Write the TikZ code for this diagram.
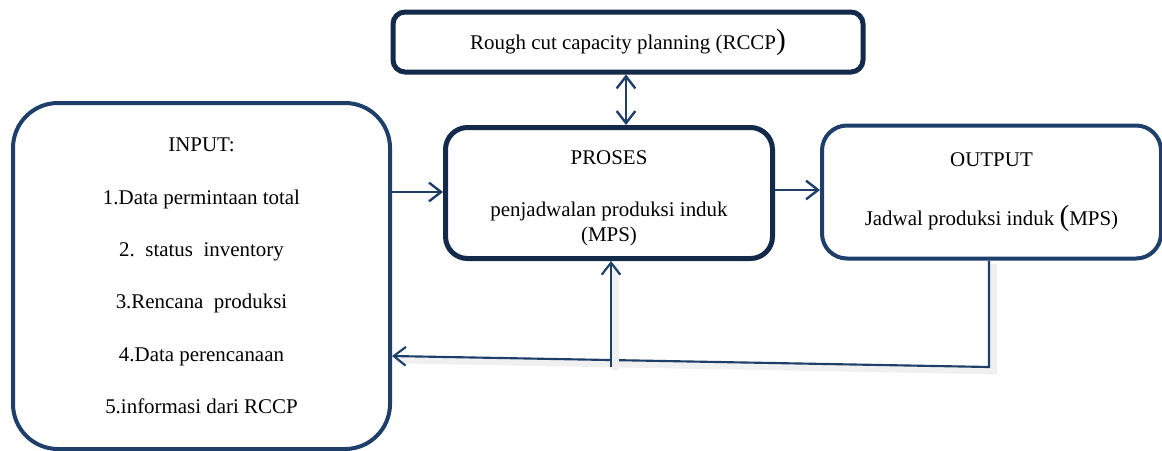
\documentclass[tikz,border=0pt]{standalone}
\usepackage{fontspec}
\setmainfont{Liberation Serif}
\usetikzlibrary{arrows.meta}
\definecolor{boxblue}{HTML}{1F3F6B}
\definecolor{boxnavy}{HTML}{142A4B}
\newcommand{\bigparen}[1]{{\fontsize{22pt}{22pt}\selectfont #1}}

\begin{document}
\begin{tikzpicture}[x=0.75pt, y=-0.75pt,
    >={Straight Barb[length=9pt, width=14pt]},
    every node/.style={font=\fontsize{15.7pt}{19pt}\selectfont, align=center},
    inbox/.style={draw=boxblue, line width=3pt, rounded corners=33.75pt, fill=white},
    navybox/.style={draw=boxnavy, line width=3.75pt, fill=white},
    outbox/.style={draw=boxblue, line width=3pt, rounded corners=18.75pt, fill=white},
    flow/.style={draw=boxblue, line width=1.8pt},
    fback/.style={flow, line width=1.6pt,
      preaction={-, draw=black!6, line width=6pt, transform canvas={shift={(3pt,-2.5pt)}}}}]
  \useasboundingbox (0,0) rectangle (1162,450);

  \node [inbox, minimum width=282.75pt, minimum height=259.5pt,
    font=\fontsize{15.7pt}{39.3pt}\selectfont] (in) at (201.5,276) {INPUT:\\
    1.Data permintaan total\\
    2.\ \ status\ \ inventory\\
    3.Rencana\ \ produksi\\
    4.Data perencanaan\\
    5.informasi dari RCCP};
  \node [navybox, rounded corners=9pt, minimum width=352.5pt, minimum height=45pt] (rccp) at (628,42)
    {Rough cut capacity planning (RCCP\bigparen{)}};
  \node [navybox, rounded corners=16.5pt, minimum width=245.25pt, minimum height=98.25pt] (pro) at (609,193)
    {\rule{0pt}{18pt}PROSES\\[20pt]penjadwalan produksi induk\\(MPS)};
  \node [outbox, minimum width=254.25pt, minimum height=99.75pt] (out) at (991.5,192)
    {OUTPUT\\[25pt]Jadwal produksi induk \bigparen{(}MPS)};

  \coordinate (fbcorner) at (989,367);
  \coordinate (fbup) at (611,367);

  \draw [flow, <->] (rccp.south -| 626,0) -- (pro.north -| 626,0);
  \draw [flow, ->] (in.east |- 0,192) -- (pro.west |- 0,192);
  \draw [flow, ->] (pro.east |- 0,190) -- (out.west |- 0,190);
  \draw [fback, ->] (out.south -| fbcorner) -- (fbcorner) -- (in.east |- 0,356);
  \draw [fback, ->] (fbup) -- (pro.south -| fbup);
\end{tikzpicture}
\end{document}
